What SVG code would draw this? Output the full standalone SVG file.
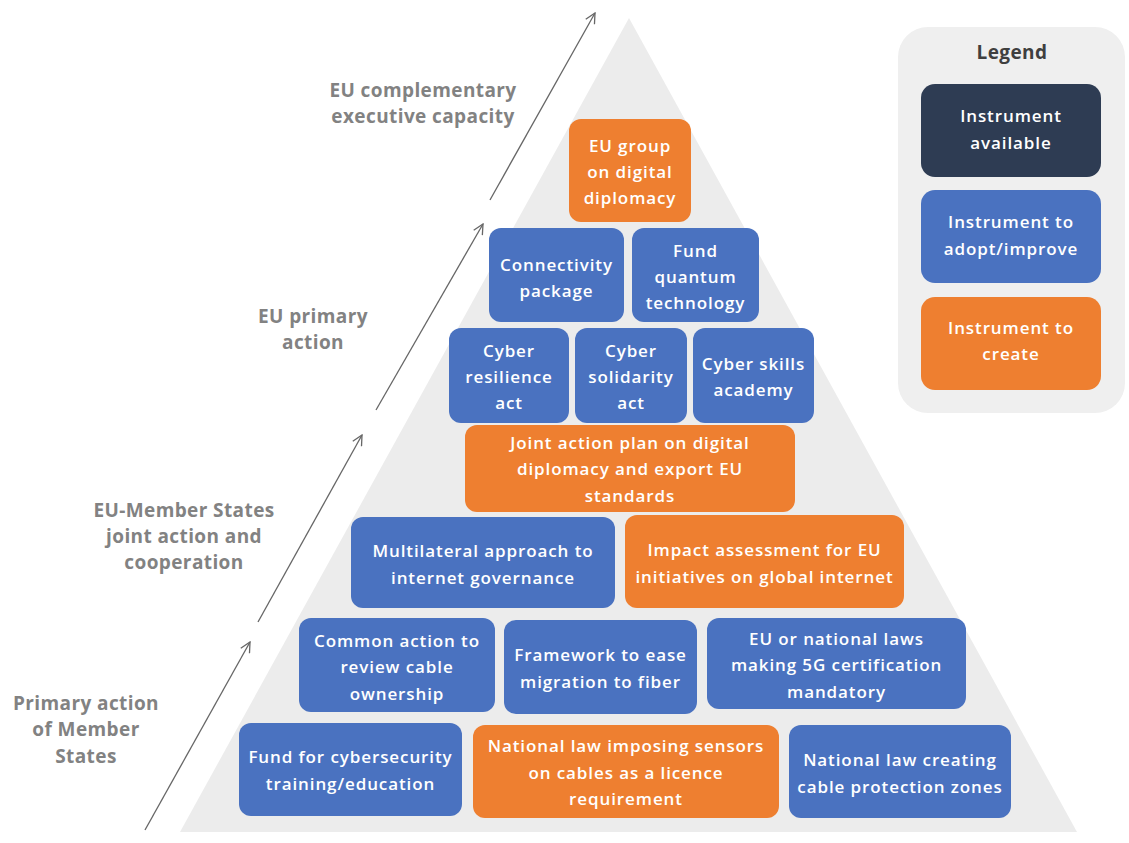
<svg xmlns="http://www.w3.org/2000/svg" width="1129" height="843" viewBox="0 0 1129 843">
<defs>
<marker id="open" viewBox="0 0 12 12" refX="11" refY="6" markerWidth="12" markerHeight="12" markerUnits="userSpaceOnUse" orient="auto">
<path d="M1,1 L11,6 L1,11" fill="none" stroke="#666" stroke-width="1.3"/>
</marker>
<style>
.blue{fill:#4a72c0}
.orange{fill:#ee7f30}
.navy{fill:#2e3c53}
.t{font-family:"Open Sans","Noto Sans","Liberation Sans",sans-serif;font-weight:600;font-size:17px;fill:#fff;text-anchor:middle;letter-spacing:0.9px}
.side{font-family:"Open Sans","Noto Sans","Liberation Sans",sans-serif;font-weight:700;font-size:19px;fill:#828282;text-anchor:middle;letter-spacing:0.4px}
.leg{font-family:"Open Sans","Noto Sans","Liberation Sans",sans-serif;font-weight:700;font-size:19px;fill:#3f3f3f;text-anchor:middle;letter-spacing:0.4px}
.arr{stroke:#666;stroke-width:1.3;fill:none;marker-end:url(#open)}
</style>
</defs>
<rect width="1129" height="843" fill="#fff"/>
<polygon id="pyramid" points="629,18 1077,832 180,832" fill="#ececec"/>

<g id="connectors">
<line class="arr" x1="145" y1="830" x2="250" y2="642"/>
<line class="arr" x1="258" y1="622" x2="362" y2="435"/>
<line class="arr" x1="376" y1="410" x2="483" y2="224"/>
<line class="arr" x1="490" y1="200" x2="595" y2="13"/>
</g>

<g id="level-labels">
<text class="side" x="423" y="97">EU complementary</text>
<text class="side" x="423" y="123">executive capacity</text>
<text class="side" x="313" y="323">EU primary</text>
<text class="side" x="313" y="349">action</text>
<text class="side" x="184" y="517">EU-Member States</text>
<text class="side" x="184" y="543">joint action and</text>
<text class="side" x="184" y="569">cooperation</text>
<text class="side" x="86" y="710">Primary action</text>
<text class="side" x="86" y="736">of Member</text>
<text class="side" x="86" y="763">States</text>
</g>

<g id="n-eu-group"><rect class="orange" x="569" y="119" width="122" height="103" rx="12"/>
<text class="t" x="630" y="152">EU group</text><text class="t" x="630" y="178">on digital</text><text class="t" x="630" y="204">diplomacy</text></g>

<g id="n-connectivity"><rect class="blue" x="489" y="228" width="135" height="94" rx="12"/>
<text class="t" x="556.5" y="270.5">Connectivity</text><text class="t" x="556.5" y="296.5">package</text></g>

<g id="n-quantum"><rect class="blue" x="632" y="228" width="127" height="94" rx="12"/>
<text class="t" x="695.5" y="257">Fund</text><text class="t" x="695.5" y="283">quantum</text><text class="t" x="695.5" y="309">technology</text></g>

<g id="n-resilience"><rect class="blue" x="449" y="328" width="120" height="95" rx="12"/>
<text class="t" x="509" y="357">Cyber</text><text class="t" x="509" y="383">resilience</text><text class="t" x="509" y="409">act</text></g>

<g id="n-solidarity"><rect class="blue" x="575" y="328" width="112" height="95" rx="12"/>
<text class="t" x="631" y="357">Cyber</text><text class="t" x="631" y="383">solidarity</text><text class="t" x="631" y="409">act</text></g>

<g id="n-skills"><rect class="blue" x="693" y="328" width="121" height="95" rx="12"/>
<text class="t" x="753.5" y="370">Cyber skills</text><text class="t" x="753.5" y="396">academy</text></g>

<g id="n-joint-plan"><rect class="orange" x="465" y="425" width="330" height="87" rx="12"/>
<text class="t" x="630" y="448.5">Joint action plan on digital</text><text class="t" x="630" y="475">diplomacy and export EU</text><text class="t" x="630" y="501.5">standards</text></g>

<g id="n-multilateral"><rect class="blue" x="351" y="517" width="264" height="91" rx="12"/>
<text class="t" x="483" y="557">Multilateral approach to</text><text class="t" x="483" y="583.5">internet governance</text></g>

<g id="n-impact"><rect class="orange" x="625" y="515" width="279" height="93" rx="12"/>
<text class="t" x="764.5" y="556">Impact assessment for EU</text><text class="t" x="764.5" y="582.5">initiatives on global internet</text></g>

<g id="n-common"><rect class="blue" x="299" y="618" width="196" height="94" rx="12"/>
<text class="t" x="397" y="646.5">Common action to</text><text class="t" x="397" y="673">review cable</text><text class="t" x="397" y="699.5">ownership</text></g>

<g id="n-framework"><rect class="blue" x="504" y="620" width="193" height="94" rx="12"/>
<text class="t" x="600.5" y="661">Framework to ease</text><text class="t" x="600.5" y="687.5">migration to fiber</text></g>

<g id="n-5g"><rect class="blue" x="707" y="618" width="259" height="91" rx="12"/>
<text class="t" x="836.5" y="644.5">EU or national laws</text><text class="t" x="836.5" y="671">making 5G certification</text><text class="t" x="836.5" y="697.5">mandatory</text></g>

<g id="n-fund-cyber"><rect class="blue" x="239" y="723" width="223" height="93" rx="12"/>
<text class="t" x="350.5" y="763">Fund for cybersecurity</text><text class="t" x="350.5" y="789.5">training/education</text></g>

<g id="n-sensors"><rect class="orange" x="473" y="725" width="306" height="93" rx="12"/>
<text class="t" x="626" y="752">National law imposing sensors</text><text class="t" x="626" y="778.5">on cables as a licence</text><text class="t" x="626" y="805">requirement</text></g>

<g id="n-zones"><rect class="blue" x="789" y="725" width="222" height="93" rx="12"/>
<text class="t" x="900" y="766">National law creating</text><text class="t" x="900" y="792.5">cable protection zones</text></g>

<g id="legend">
<rect x="898" y="27" width="227" height="386" rx="30" fill="#efefef"/>
<text class="leg" x="1012" y="59">Legend</text>
<g id="legend-available"><rect class="navy" x="921" y="84" width="180" height="93" rx="14"/>
<text class="t" x="1011" y="122">Instrument</text><text class="t" x="1011" y="148.5">available</text></g>
<g id="legend-adopt"><rect class="blue" x="921" y="190" width="180" height="93" rx="14"/>
<text class="t" x="1011" y="228">Instrument to</text><text class="t" x="1011" y="254.5">adopt/improve</text></g>
<g id="legend-create"><rect class="orange" x="921" y="297" width="180" height="93" rx="14"/>
<text class="t" x="1011" y="333.5">Instrument to</text><text class="t" x="1011" y="360">create</text></g>
</g>
</svg>
